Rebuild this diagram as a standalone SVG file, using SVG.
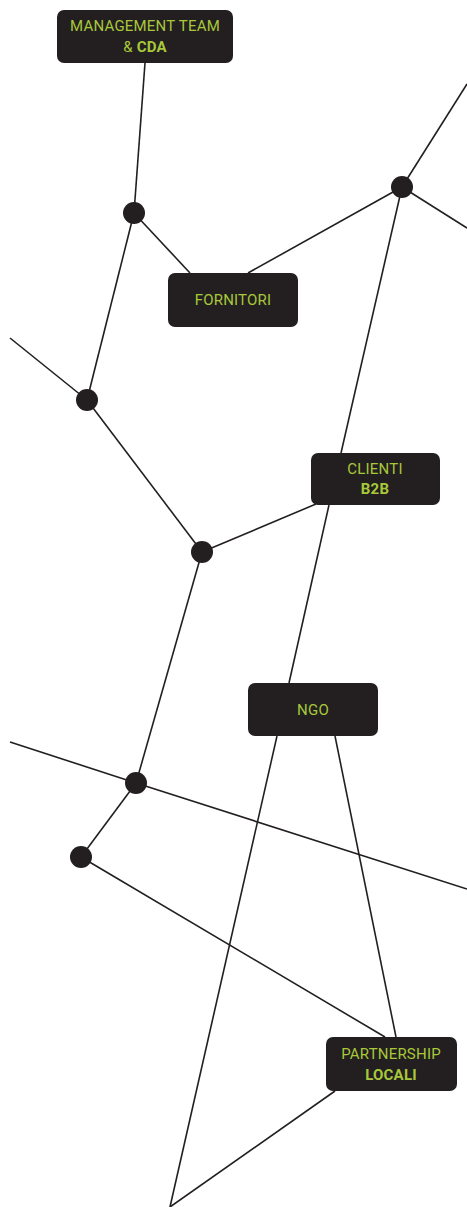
<svg xmlns="http://www.w3.org/2000/svg" width="467" height="1207" viewBox="0 0 467 1207">
<style>
.box{fill:#231f20}
.t{font-family:Roboto,"Liberation Sans",sans-serif;font-size:15px;fill:#a8c83a;text-anchor:middle;font-weight:400;letter-spacing:0.2px}
.b{font-weight:700}
.ln{stroke:#231f20;stroke-width:1.6;fill:none}
.dot{fill:#231f20}
</style>
<rect width="467" height="1207" fill="#fff"/>
<g id="connectors">
<path class="ln" d="M145 63L134 213"/>
<path class="ln" d="M134 213L190 273"/>
<path class="ln" d="M402 187L248 273"/>
<path class="ln" d="M402 187L467 84"/>
<path class="ln" d="M402 187L467 228"/>
<path class="ln" d="M402 187L341 453"/>
<path class="ln" d="M134 213L87 400"/>
<path class="ln" d="M10 338L87 400"/>
<path class="ln" d="M87 400L202 552"/>
<path class="ln" d="M202 552L316 504"/>
<path class="ln" d="M329 505L289 683"/>
<path class="ln" d="M202 552L136 783"/>
<path class="ln" d="M10 742L136 783L467 889"/>
<path class="ln" d="M136 783L81 857"/>
<path class="ln" d="M81 857L385 1037"/>
<path class="ln" d="M335 736L396 1037"/>
<path class="ln" d="M277 736L170 1207"/>
<path class="ln" d="M335 1091L170 1207"/>
</g>
<g id="dots">
<circle class="dot" cx="134" cy="213" r="11"/>
<circle class="dot" cx="402" cy="187" r="11"/>
<circle class="dot" cx="87" cy="400" r="11"/>
<circle class="dot" cx="202" cy="552" r="11"/>
<circle class="dot" cx="136" cy="783" r="11"/>
<circle class="dot" cx="81" cy="857" r="11"/>
</g>
<g id="management">
<rect class="box" x="57" y="10" width="176" height="53" rx="7"/>
<text class="t" x="145" y="31">MANAGEMENT TEAM</text>
<text class="t" x="145" y="52">&amp; <tspan class="b">CDA</tspan></text>
</g>
<g id="fornitori">
<rect class="box" x="168" y="273" width="130" height="54" rx="7"/>
<text class="t" x="233" y="305">FORNITORI</text>
</g>
<g id="clienti">
<rect class="box" x="311" y="453" width="129" height="52" rx="7"/>
<text class="t" x="375" y="474">CLIENTI</text>
<text class="t b" x="375" y="494">B2B</text>
</g>
<g id="ngo">
<rect class="box" x="248" y="683" width="130" height="53" rx="7"/>
<text class="t" x="313" y="715">NGO</text>
</g>
<g id="partnership">
<rect class="box" x="326" y="1037" width="131" height="54" rx="7"/>
<text class="t" x="391" y="1059">PARTNERSHIP</text>
<text class="t b" x="391" y="1080">LOCALI</text>
</g>
</svg>
